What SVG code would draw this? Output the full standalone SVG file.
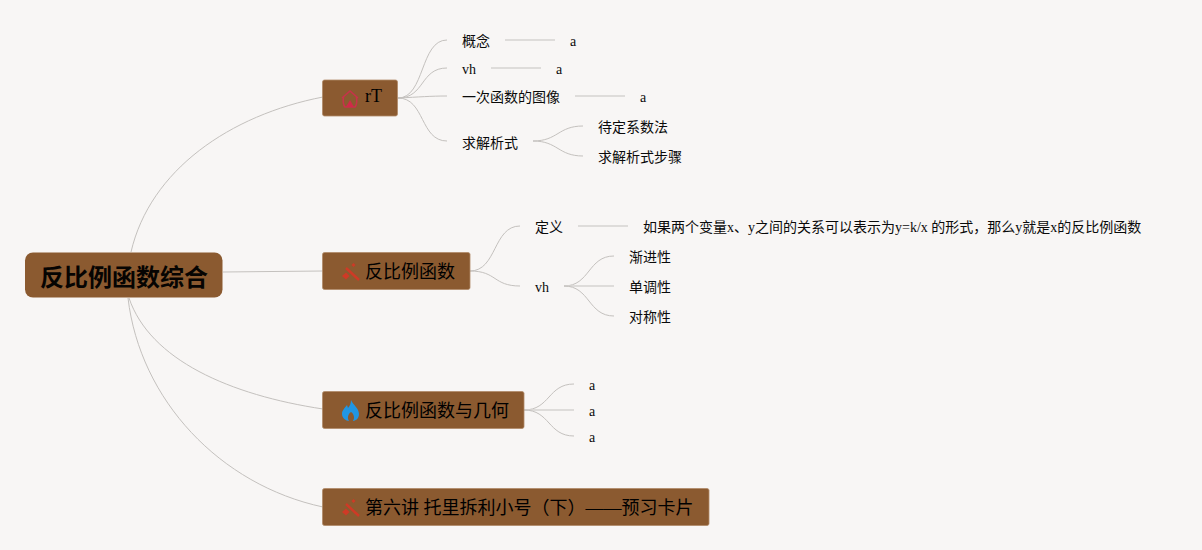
<svg xmlns="http://www.w3.org/2000/svg" width="1202" height="550" viewBox="0 0 1202 550">
<defs>
<g id="wand"><path d="M346 -9L359 3" fill="none" stroke="#cf3a26" stroke-width="2.400"/><path d="M342 -1L346 -4.500L349.500 -1L346 2.500Z" fill="#cf3a26"/><path d="M353.500 -14L355.500 -12L353.500 -10L351.500 -12Z" fill="#cf3a26"/></g>
</defs>
<style>
text{font-family:"Liberation Serif","Noto Sans CJK SC",serif;fill:#0a0a0a}
.leaf{font-size:14px}
.branch{font-size:18px;fill:#000}
.root{font-size:24px;font-weight:bold;font-family:"Noto Sans CJK SC",sans-serif;fill:#060402}
.box{fill:#8b5a30;stroke:#b08a68;stroke-width:.8}
.c path{fill:none;stroke:#c4c1be;stroke-width:1}
.c .s{stroke:#d6d3d1;stroke-width:1.5}
</style>
<rect width="1202" height="550" fill="#f8f6f5"/>
<g class="c" id="connectors">
<path d="M131 252C150 170 230 115 323 97"/>
<path d="M223 272L323 271"/>
<path d="M129 298C150 360 230 395 323 409"/>
<path d="M128 298C140 400 220 485 323 507"/>
<path d="M398 98C425 98 420 40 447 40"/>
<path d="M398 98C425 98 420 68 447 68"/>
<path d="M398 98C420 97 430 96 447 96"/>
<path d="M398 98C425 98 420 141 447 141"/>
<path class="s" d="M505 40H555"/>
<path class="s" d="M491 68H541"/>
<path class="s" d="M575 96H625"/>
<path d="M533 141C558 141 558 126 583 126"/>
<path d="M533 141C558 141 558 156 583 156"/>
<path d="M470 271C497 271 493 226 520 226"/>
<path d="M470 271C497 271 493 286 520 286"/>
<path class="s" d="M578 226H628"/>
<path d="M564 286C590 286 588 256 614 256"/>
<path class="s" d="M564 286H614"/>
<path d="M564 286C590 286 588 316 614 316"/>
<path d="M524 410C550 410 548 384 574 384"/>
<path class="s" d="M524 410H574"/>
<path d="M524 410C550 410 548 436 574 436"/>
</g>
<g id="root"><rect x="25" y="252.500" width="197.500" height="45" rx="8" fill="#8b5a30"/><text class="root" x="40" y="285.500">反比例函数综合</text></g>
<g id="n-rt"><rect class="box" x="322.500" y="80" width="75" height="36" rx="2"/>
<path d="M342 98L350 91L358 98M343.500 97Q342.500 104 345 107H355Q357.500 104 356.500 97" fill="none" stroke="#c8324a" stroke-width="1.600"/><path d="M350 100L354 107H346Z" fill="#d02a48"/>
<text class="branch" x="365" y="102">rT</text></g>
<g id="n-fb"><rect class="box" x="322.500" y="252.500" width="147.500" height="37" rx="2"/>
<use href="#wand" y="277"/>
<text class="branch" x="365" y="278">反比例函数</text></g>
<g id="n-fbjh"><rect class="box" x="322.500" y="391.500" width="201.500" height="37" rx="2"/>
<path d="M351 400C353 405 359 408 359 414C359 419 355 421 353 421C355 418 354 414 351 412C348 414 347 418 349 421C346 421 342 418 342 414C342 410 345 408 347 405L348 408C350 406 351 403 351 400Z" fill="#2196e3"/>
<text class="branch" x="365" y="417">反比例函数与几何</text></g>
<g id="n-card"><rect class="box" x="322.500" y="488.500" width="386.500" height="37" rx="2"/>
<use href="#wand" y="513"/>
<text class="branch" x="365" y="514">第六讲 托里拆利小号（下）——预习卡片</text></g>
<g id="leaves">
<text class="leaf" x="462" y="46">概念</text><text class="leaf" x="570" y="46">a</text>
<text class="leaf" x="462" y="74">vh</text><text class="leaf" x="556" y="74">a</text>
<text class="leaf" x="462" y="102">一次函数的图像</text><text class="leaf" x="640" y="102">a</text>
<text class="leaf" x="462" y="147.500">求解析式</text>
<text class="leaf" x="598" y="132">待定系数法</text>
<text class="leaf" x="598" y="162">求解析式步骤</text>
<text class="leaf" x="535" y="232">定义</text>
<text class="leaf" x="643" y="232">如果两个变量x、y之间的关系可以表示为y=k/x 的形式，那么y就是x的反比例函数</text>
<text class="leaf" x="535" y="292">vh</text>
<text class="leaf" x="629" y="262">渐进性</text>
<text class="leaf" x="629" y="292">单调性</text>
<text class="leaf" x="629" y="322">对称性</text>
<text class="leaf" x="589" y="390">a</text><text class="leaf" x="589" y="416">a</text><text class="leaf" x="589" y="442">a</text>
</g>
</svg>
